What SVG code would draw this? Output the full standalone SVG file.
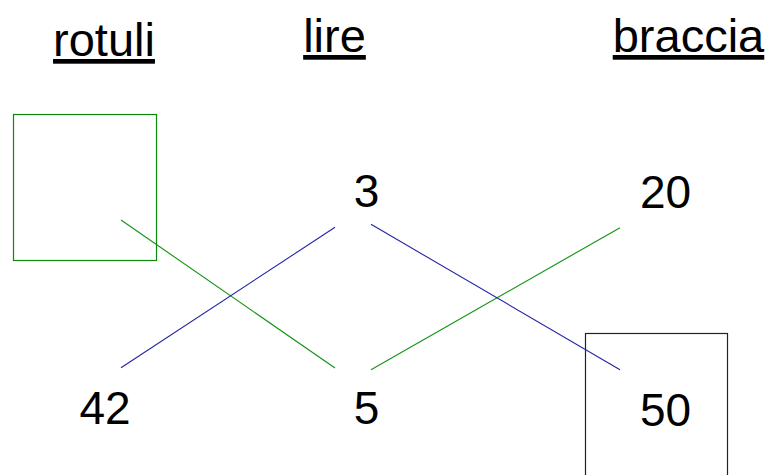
<svg xmlns="http://www.w3.org/2000/svg" width="771" height="475" viewBox="0 0 771 475">
<style>
.h{font-family:"Liberation Sans",Arial,sans-serif;font-size:47px;fill:#000;text-anchor:middle;text-decoration:underline}
.n{font-family:"Liberation Sans",Arial,sans-serif;font-size:46px;fill:#000;text-anchor:middle}
.g{stroke:#129212;stroke-width:1.1;fill:none}
.b{stroke:#2424a8;stroke-width:1.1;fill:none}
</style>
<rect width="771" height="475" fill="#fff"/>
<g id="headers">
<text class="h" x="104" y="56">rotuli</text>
<text class="h" x="334.5" y="52">lire</text>
<text class="h" x="688.5" y="52">braccia</text>
</g>
<g id="node-rotuli-box"><rect x="13.5" y="114.5" width="143" height="146" fill="none" stroke="#0a8a0a" stroke-width="1.2"/></g>
<g id="node-3"><text class="n" x="366.5" y="207">3</text></g>
<g id="node-20"><text class="n" x="665.5" y="208">20</text></g>
<g id="node-42"><text class="n" x="105" y="424">42</text></g>
<g id="node-5"><text class="n" x="366.5" y="424">5</text></g>
<g id="node-50"><rect x="585.5" y="333.5" width="142" height="150" fill="none" stroke="#222" stroke-width="1.2"/><text class="n" x="665.5" y="426">50</text></g>
<g id="connectors">
<line class="g" x1="121" y1="220" x2="335" y2="368"/>
<line class="g" x1="371" y1="369.7" x2="620" y2="227.7"/>
<line class="b" x1="121" y1="367.7" x2="335" y2="227.3"/>
<line class="b" x1="371" y1="224.3" x2="620" y2="369.7"/>
</g>
</svg>
